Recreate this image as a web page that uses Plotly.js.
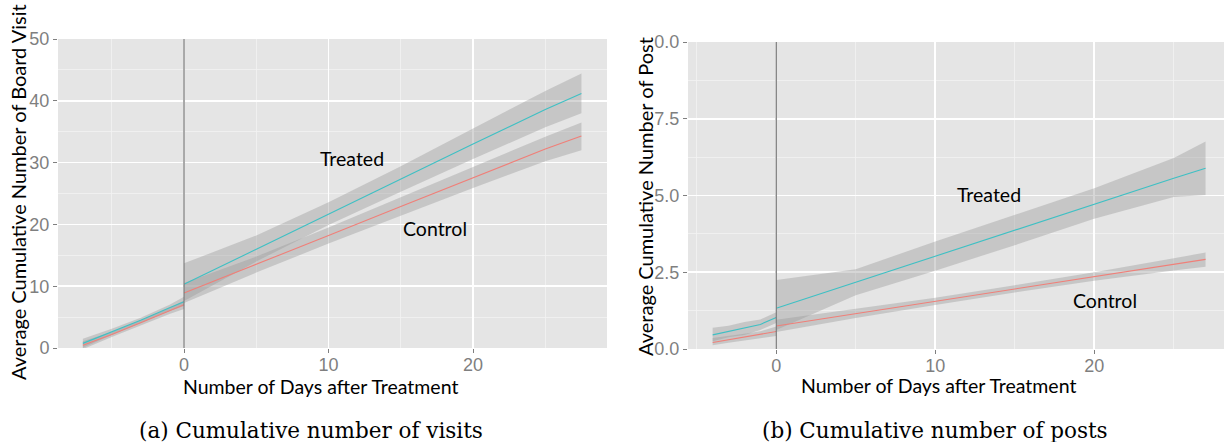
<!DOCTYPE html>
<html><head><meta charset="utf-8">
<script src="https://cdn.plot.ly/plotly-3.0.1.min.js"></script>
<style>body{margin:0;background:#fff}</style>
</head><body><div id="chart" style="width:1224px;height:442px"></div>
<script>
// ---------- Panel (a): cumulative number of board visits ----------
const visitsPreDays = [-7, -5, -3, -1, 0];
const visitsTreatedPre = [0.75, 2.6, 4.5, 6.5, 7.5];
const visitsTreatedPreLo = [0.05, 2.1, 4.1, 6.0, 6.8];
const visitsTreatedPreHi = [1.5, 3.1, 4.9, 7.0, 8.3];
const visitsControlPre = [0.45, 2.2, 4.1, 6.0, 7.0];
const visitsControlPreLo = [-0.2, 1.8, 3.7, 5.5, 6.3];
const visitsControlPreHi = [1.1, 2.6, 4.5, 6.5, 7.7];

const visitsPostDays = [0, 5, 10, 15, 20, 25, 27.5];
const visitsTreatedPost = [10.3, 16.0, 21.7, 27.3, 33.0, 38.6, 41.2];
const visitsTreatedPostLo = [7.6, 14.0, 19.9, 25.3, 30.6, 35.7, 38.0];
const visitsTreatedPostHi = [13.7, 18.2, 23.6, 29.4, 35.5, 41.6, 44.4];
const visitsControlPost = [8.9, 13.5, 18.2, 22.9, 27.6, 32.2, 34.3];
const visitsControlPostLo = [7.3, 12.2, 16.9, 21.4, 25.9, 30.2, 32.0];
const visitsControlPostHi = [10.5, 14.8, 19.5, 24.4, 29.3, 34.2, 36.5];

// ---------- Panel (b): cumulative number of posts ----------
const postsPreDays = [-4, -3, -2, -1, 0];
const postsTreatedPre = [0.46, 0.58, 0.68, 0.80, 1.03];
const postsTreatedPreLo = [0.25, 0.38, 0.46, 0.62, 0.85];
const postsTreatedPreHi = [0.69, 0.76, 0.88, 0.96, 1.2];
const postsControlPre = [0.21, 0.30, 0.38, 0.46, 0.57];
const postsControlPreLo = [0.12, 0.20, 0.28, 0.36, 0.42];
const postsControlPreHi = [0.36, 0.42, 0.50, 0.58, 0.73];

const postsPostDays = [0, 5, 10, 15, 20, 25, 27];
const postsTreatedPost = [1.33, 2.18, 3.03, 3.88, 4.73, 5.56, 5.89];
const postsTreatedPostLo = [0.62, 1.75, 2.55, 3.38, 4.24, 4.95, 5.02];
const postsTreatedPostHi = [2.25, 2.60, 3.50, 4.36, 5.24, 6.22, 6.76];
const postsControlPost = [0.75, 1.15, 1.55, 1.96, 2.36, 2.76, 2.92];
const postsControlPostLo = [0.55, 1.01, 1.43, 1.84, 2.22, 2.56, 2.68];
const postsControlPostHi = [0.95, 1.30, 1.67, 2.08, 2.50, 2.96, 3.14];

const postsTickVals = [0, 2.5, 5, 7.5, 10];
const postsTickText = ["0.0", "2.5", "5.0", "7.5", "0.0"];

const seriesLabels = ["Treated", "Control"];
const xTitle = "Number of Days after Treatment";
const yTitleA = "Average Cumulative Number of Board Visit";
const yTitleB = "Average Cumulative Number of Post";
const captionA = "(a) Cumulative number of visits";
const captionB = "(b) Cumulative number of posts";

const TREATED = "#3EC0C4";
const CONTROL = "#F07F78";
const BAND = "rgba(153,153,153,0.4)";

function band(x, lo, hi, xa, ya) {
  return {x: x.concat(x.slice().reverse()), y: hi.concat(lo.slice().reverse()),
    xaxis: xa, yaxis: ya, type: "scatter", mode: "lines", fill: "toself",
    fillcolor: BAND, line: {width: 0}, hoverinfo: "skip", showlegend: false};
}
function line(x, y, color, xa, ya) {
  return {x: x, y: y, xaxis: xa, yaxis: ya, type: "scatter", mode: "lines",
    line: {color: color, width: 1.1}, hoverinfo: "skip", showlegend: false};
}

const traces = [
  band(visitsPreDays, visitsTreatedPreLo, visitsTreatedPreHi, "x", "y"),
  band(visitsPreDays, visitsControlPreLo, visitsControlPreHi, "x", "y"),
  band(visitsPostDays, visitsTreatedPostLo, visitsTreatedPostHi, "x", "y"),
  band(visitsPostDays, visitsControlPostLo, visitsControlPostHi, "x", "y"),
  line(visitsPreDays, visitsControlPre, CONTROL, "x", "y"),
  line(visitsPostDays, visitsControlPost, CONTROL, "x", "y"),
  line(visitsPreDays, visitsTreatedPre, TREATED, "x", "y"),
  line(visitsPostDays, visitsTreatedPost, TREATED, "x", "y"),

  band(postsPreDays, postsTreatedPreLo, postsTreatedPreHi, "x2", "y2"),
  band(postsPreDays, postsControlPreLo, postsControlPreHi, "x2", "y2"),
  band(postsPostDays, postsTreatedPostLo, postsTreatedPostHi, "x2", "y2"),
  band(postsPostDays, postsControlPostLo, postsControlPostHi, "x2", "y2"),
  line(postsPreDays, postsControlPre, CONTROL, "x2", "y2"),
  line(postsPostDays, postsControlPost, CONTROL, "x2", "y2"),
  line(postsPreDays, postsTreatedPre, TREATED, "x2", "y2"),
  line(postsPostDays, postsTreatedPost, TREATED, "x2", "y2")
];

const FONT = "Lato, 'Open Sans', sans-serif";
const tickFont = {family: "'Liberation Sans', Arial, sans-serif", size: 18, color: "#7F7F7F"};
function axis(extra) {
  return Object.assign({
    showgrid: true, gridcolor: "#FFFFFF", gridwidth: 1.6,
    zeroline: false, showline: false, ticks: "outside", ticklen: 4,
    tickcolor: "#7F7F7F", tickwidth: 1, tickfont: tickFont, fixedrange: true
  }, extra);
}
const minorGrid = vals => ({tickvals: vals, showgrid: true, gridcolor: "#F2F2F2", gridwidth: 0.8, ticks: ""});

const W = 1224, H = 442;
const px = v => v / W, py = v => 1 - v / H;
const txt = (xr, yr, x, y, text, font, extra) => Object.assign({
  xref: xr, yref: yr, x: x, y: y, text: text, showarrow: false,
  xanchor: "center", yanchor: "middle", font: font}, extra || {});
const labFont = {family: FONT, size: 19.5, color: "#000"};
const yLabFont = {family: FONT, size: 20, color: "#000"};
const capFont = {family: "'DejaVu Serif', serif", size: 21.5, color: "#000"};

const layout = {
  width: W, height: H, margin: {l: 0, r: 0, t: 0, b: 0},
  paper_bgcolor: "#FFFFFF", plot_bgcolor: "#E5E5E5", showlegend: false,
  font: {family: FONT},
  xaxis: axis({domain: [px(58), px(607)], range: [-8.72, 29.27], anchor: "y",
    tickmode: "array", tickvals: [0, 10, 20], ticklabelstandoff: -4, minor: minorGrid([-5, 5, 15, 25])}),
  yaxis: axis({domain: [py(348), py(39)], range: [0, 50], anchor: "x",
    tickmode: "array", tickvals: [0, 10, 20, 30, 40, 50], minor: minorGrid([5, 15, 25, 35, 45])}),
  xaxis2: axis({domain: [px(688), 1], range: [-5.55, 28.16], anchor: "y2",
    tickmode: "array", tickvals: [0, 10, 20], ticklabelstandoff: -4, minor: minorGrid([-5, 5, 15, 25])}),
  yaxis2: axis({domain: [py(349), py(42)], range: [0, 10], anchor: "x2",
    tickmode: "array", tickvals: postsTickVals, ticktext: postsTickText,
    minor: minorGrid([1.25, 3.75, 6.25, 8.75])}),
  shapes: [
    {type: "line", xref: "x", yref: "y domain", x0: 0, x1: 0, y0: 0, y1: 1, line: {color: "#7A7A7A", width: 1.3}},
    {type: "line", xref: "x2", yref: "y2 domain", x0: 0, x1: 0, y0: 0, y1: 1, line: {color: "#7A7A7A", width: 1.3}}
  ],
  annotations: [
    txt("x", "y", 11.6, 30.6, seriesLabels[0], labFont),
    txt("x", "y", 17.4, 19.3, seriesLabels[1], labFont),
    txt("x2", "y2", 13.4, 5.02, seriesLabels[0], labFont),
    txt("x2", "y2", 20.7, 1.57, seriesLabels[1], labFont),
    txt("paper", "paper", px(320), py(386), xTitle, labFont),
    txt("paper", "paper", px(938.5), py(385), xTitle, labFont),
    txt("paper", "paper", px(18), py(192), yTitleA, yLabFont, {textangle: -90}),
    txt("paper", "paper", px(645), py(197), yTitleB, yLabFont, {textangle: -90}),
    txt("paper", "paper", px(311), py(430), captionA, capFont),
    txt("paper", "paper", px(935.5), py(430), captionB, capFont)
  ]
};

Plotly.newPlot("chart", traces, layout, {staticPlot: true, displayModeBar: false});
</script>
</body></html>
